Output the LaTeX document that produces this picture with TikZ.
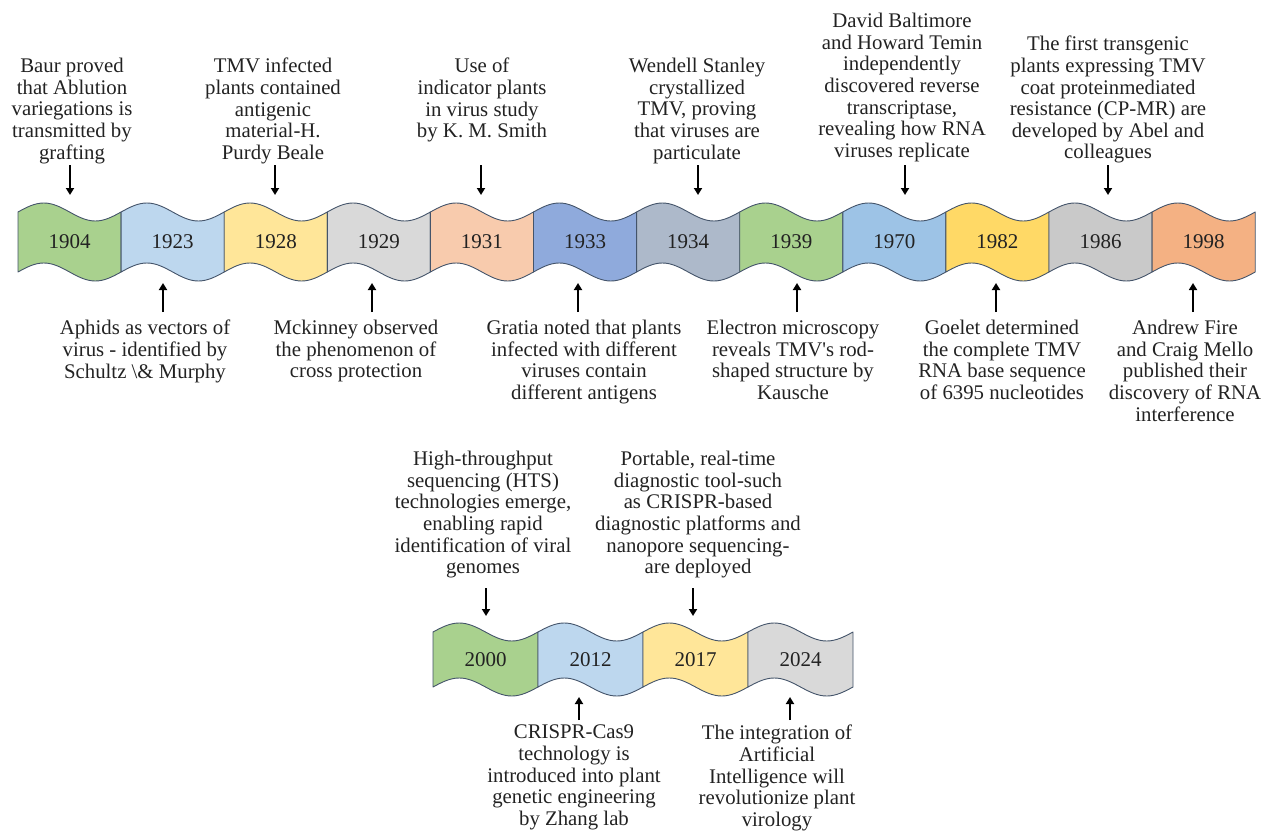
\documentclass[tikz,border=0pt]{standalone}
\usepackage{fontspec}
\setmainfont{Liberation Serif}
\newfontfamily\tnr{Liberation Serif}
\usetikzlibrary{arrows.meta}
\definecolor{bord}{RGB}{68,84,106}
\definecolor{txt}{HTML}{222222}
\definecolor{cG}{HTML}{A9D18E}
\definecolor{cB}{HTML}{BDD7EE}
\definecolor{cY}{HTML}{FFE699}
\definecolor{cL}{HTML}{D9D9D9}
\definecolor{cO}{HTML}{F8CBAD}
\definecolor{cD}{HTML}{8FAADC}
\definecolor{cS}{HTML}{ADB9CA}
\definecolor{cM}{HTML}{9DC3E6}
\definecolor{cK}{HTML}{FFD966}
\definecolor{cR}{HTML}{C9C9C9}
\definecolor{cP}{HTML}{F4B183}
\newcommand\waveseg[5]{%
  \path[seg,fill=#5] (#1,#3) sin ++({#2/4},-9) cos ++({#2/4},9) sin ++({#2/4},9) cos ++({#2/4},-9)
    -- ++(0,{#4-#3}) sin ++({-#2/4},9) cos ++({-#2/4},-9) sin ++({-#2/4},-9) cos ++({-#2/4},9) -- cycle;}
\begin{document}
\begin{tikzpicture}[x=1pt,y=-1pt,
  seg/.style={draw=bord,line width=0.9pt,line join=round},
  ev/.style={align=center,anchor=north,inner sep=0pt,text=txt,font=\tnr\fontsize{20.8}{21.6}\selectfont},
  yr/.style={inner sep=0pt,font=\tnr\fontsize{21}{24}\selectfont,text=txt},
  arr/.style={line width=2pt,-{Triangle[width=8pt,length=7pt]}}]
\useasboundingbox (0,0) rectangle (1266,832);
% top row banner
\foreach \yy/\col [count=\i from 0] in {1904/cG,1923/cB,1928/cY,1929/cL,1931/cO,1933/cD,1934/cS,1939/cG,1970/cM,1982/cK,1986/cR,1998/cP}{
  \pgfmathsetmacro\xo{18+103.1*\i}
  \waveseg{\xo}{103.1}{212}{272}{\col}
  \node[yr] (y\yy) at ({\xo+51.55},242) {\yy};
}
% second row banner
\foreach \yy/\col [count=\i from 0] in {2000/cG,2012/cB,2017/cY,2024/cL}{
  \pgfmathsetmacro\xo{433+105*\i}
  \waveseg{\xo}{105}{632}{687}{\col}
  \node[yr] (y\yy) at ({\xo+52.5},660) {\yy};
}
% top texts
\node[ev] (t1) at (72,58) {Baur proved\\that Ablution\\variegations is\\transmitted by\\grafting};
\node[ev] (t2) at (273,58) {TMV infected\\plants contained\\antigenic\\material-H.\\Purdy Beale};
\node[ev] (t3) at (482,58) {Use of\\indicator plants\\in virus study\\by K. M. Smith};
\node[ev] (t4) at (697,58) {Wendell Stanley\\crystallized\\TMV, proving\\that viruses are\\particulate};
\node[ev] (t5) at (902,13) {David Baltimore\\and Howard Temin\\independently\\discovered reverse\\transcriptase,\\revealing how RNA\\viruses replicate};
\node[ev] (t6) at (1108,36) {The first transgenic\\plants expressing TMV\\coat proteinmediated\\resistance (CP-MR) are\\developed by Abel and\\colleagues};
% bottom texts
\node[ev] (b1) at (145,320) {Aphids as vectors of\\virus - identified by\\Schultz \textbackslash\& Murphy};
\node[ev] (b2) at (356,320) {Mckinney observed\\the phenomenon of\\cross protection};
\node[ev] (b3) at (584,320) {Gratia noted that plants\\infected with different\\viruses contain\\different antigens};
\node[ev] (b4) at (793,320) {Electron microscopy\\reveals TMV\textquotesingle s rod-\\shaped structure by\\Kausche};
\node[ev] (b5) at (1002,320) {Goelet determined\\the complete TMV\\RNA base sequence\\of 6395 nucleotides};
\node[ev] (b6) at (1185,320) {Andrew Fire\\and Craig Mello\\published their\\discovery of RNA\\interference};
% second row texts
\node[ev] (u1) at (483,451) {High-throughput\\sequencing (HTS)\\technologies emerge,\\enabling rapid\\identification of viral\\genomes};
\node[ev] (u2) at (698,451) {Portable, real-time\\diagnostic tool-such\\as CRISPR-based\\diagnostic platforms and\\nanopore sequencing-\\are deployed};
\node[ev] (d1) at (574,725) {CRISPR-Cas9\\technology is\\introduced into plant\\genetic engineering\\by Zhang lab};
\node[ev] (d2) at (777,725) {The integration of\\Artificial\\Intelligence will\\revolutionize plant\\virology};
% arrows
\foreach \n/\x in {1/70,2/275,3/481,4/698,5/905,6/1108}{
  \coordinate (ta\n) at (\x,165); \coordinate (tb\n) at (\x,195);
  \draw[arr] (ta\n) -- (tb\n);}
\foreach \n/\x in {1/163,2/372,3/578,4/797,5/996,6/1193}{
  \coordinate (ba\n) at (\x,312); \coordinate (bb\n) at (\x,283);
  \draw[arr] (ba\n) -- (bb\n);}
\foreach \n/\x in {1/486,2/693}{
  \coordinate (ua\n) at (\x,588); \coordinate (ub\n) at (\x,616);
  \draw[arr] (ua\n) -- (ub\n);}
\foreach \n/\x in {1/579,2/790}{
  \coordinate (da\n) at (\x,720); \coordinate (db\n) at (\x,697);
  \draw[arr] (da\n) -- (db\n);}
\end{tikzpicture}
\end{document}
